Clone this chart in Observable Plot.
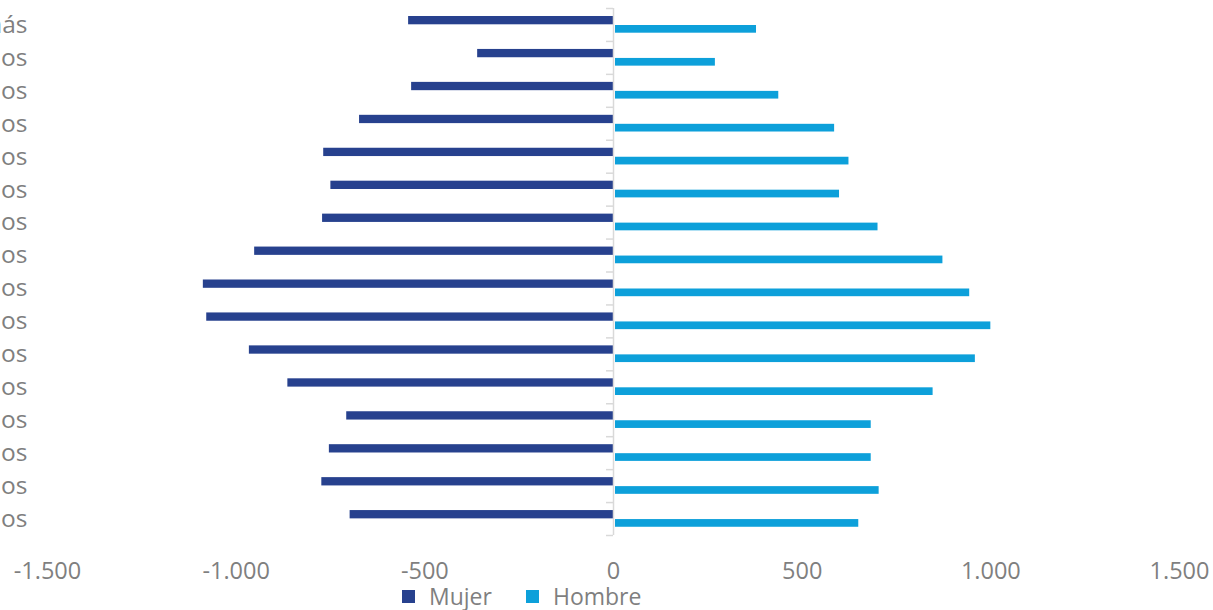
<!DOCTYPE html>
<html>
<head>
<meta charset="utf-8">
<script src="https://cdn.jsdelivr.net/npm/d3@7"></script>
<script src="https://cdn.jsdelivr.net/npm/@observablehq/plot@0.6"></script>
<style>
  html, body { margin: 0; padding: 0; background: #fff; overflow: hidden; }
  #chart { position: relative; width: 1213px; }
  .legend { display: flex; align-items: center; font-family: "Open Sans", sans-serif; font-size: 23px; color: #7f7f7f; margin-left: 402px; height: 28px; line-height: 28px; }
  .legend .sw { width: 13px; height: 13px; display: inline-block; margin-right: 14px; }
  .legend .item { display: flex; align-items: center; margin-right: 34px; }
</style>
</head>
<body>
<div id="chart"></div>
<script>
const ages = ["75 y más","70-74 años","65-69 años","60-64 años","55-59 años","50-54 años","45-49 años","40-44 años","35-39 años","30-34 años","25-29 años","20-24 años","15-19 años","10-14 años","5-9 años","0-4 años"];
const mujer = [543, 360, 535, 673, 768, 749, 771, 951, 1087, 1078, 965, 863, 707, 753, 773, 698];
const hombre = [379, 270, 438, 586, 624, 599, 701, 873, 944, 1000, 959, 847, 683, 683, 704, 650];
const series = ["Mujer", "Hombre"];
const colors = ["#27418e", "#0da0da"];
const xTicks = [-1500, -1000, -500, 0, 500, 1000, 1500];

const locale = d3.formatLocale({decimal: ",", thousands: ".", grouping: [3], currency: ["", "€"], minus: "-"});
const fmt = locale.format(",");

const dataM = ages.map((a, i) => ({age: a, value: -mujer[i]}));
const dataH = ages.map((a, i) => ({age: a, value: hombre[i]}));
const bw = (535 - 8) / ages.length;

const plot = Plot.plot({
  width: 1213,
  height: 582,
  marginLeft: 47,
  marginRight: 34,
  marginTop: 8,
  marginBottom: 47,
  style: {fontFamily: "Open Sans, sans-serif", background: "#fff", overflow: "visible"},
  x: {domain: [-1500, 1500]},
  y: {type: "band", domain: ages, padding: 0, round: false},
  marks: [
    Plot.barX(dataM, {x: "value", y: "age", fill: colors[0], insetTop: 8, insetBottom: bw - 16.3}),
    Plot.barX(dataH, {x: "value", y: "age", fill: colors[1], insetTop: 17, insetBottom: bw - 24.7, insetLeft: 2}),
    Plot.ruleX([0], {stroke: "#d9d9d9", strokeWidth: 1.5}),
    Plot.ruleY(ages, {y: d => d, x1: 0, x2: 0, insetLeft: -7, dy: -bw / 2, stroke: "#d9d9d9", strokeWidth: 1.5}),
    Plot.ruleY([ages[ages.length - 1]], {y: d => d, x1: 0, x2: 0, insetLeft: -7, dy: bw / 2, stroke: "#d9d9d9", strokeWidth: 1.5}),
    Plot.axisY({anchor: "left", tickSize: 0, tickPadding: 20, fontSize: 24.5, color: "#7f7f7f", label: null}),
    Plot.axisX({ticks: xTicks, tickFormat: fmt, tickSize: 0, tickPadding: 27, fontSize: 23.5, color: "#7f7f7f", label: null})
  ]
});

const chart = document.getElementById("chart");
chart.appendChild(plot);

const legend = document.createElement("div");
legend.className = "legend";
series.forEach((s, i) => {
  const item = document.createElement("span");
  item.className = "item";
  const sw = document.createElement("span");
  sw.className = "sw";
  sw.style.background = colors[i];
  item.appendChild(sw);
  item.appendChild(document.createTextNode(s));
  legend.appendChild(item);
});
chart.appendChild(legend);
</script>
</body>
</html>
